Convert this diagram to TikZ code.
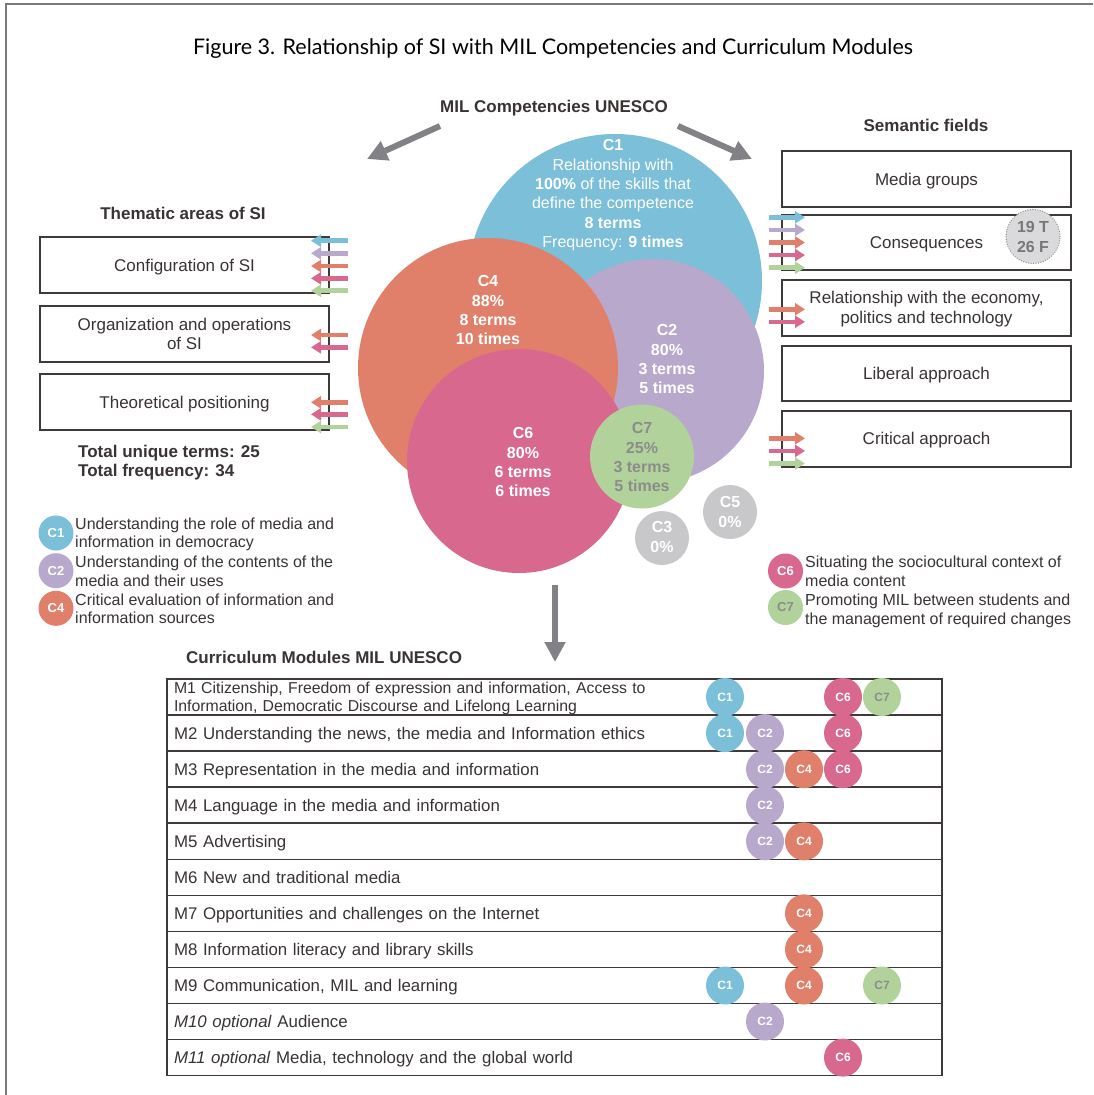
\documentclass[tikz,border=0pt]{standalone}
\usepackage{fontspec}
\setmainfont{Liberation Sans}
\newfontfamily\titlefont{Lato}
\usetikzlibrary{arrows.meta}
\definecolor{cblue}{HTML}{7BBFD9}
\definecolor{cpurple}{HTML}{B8A8CC}
\definecolor{corange}{HTML}{E0806B}
\definecolor{cpink}{HTML}{D8688D}
\definecolor{cgreen}{HTML}{B2D29B}
\definecolor{cgrey}{HTML}{C8C8CA}
\definecolor{txt}{HTML}{3A3333}
\definecolor{lin}{HTML}{3E3A3A}
\definecolor{arrowgrey}{HTML}{828286}
\definecolor{cseventxt}{HTML}{8C8C8C}
\definecolor{framegrey}{HTML}{7A7A7A}
\definecolor{dotfill}{HTML}{DADADC}
\newcommand\myfs[2]{\fontsize{#1}{#2}\selectfont}
\tikzset{
 box/.style={draw=lin, line width=2pt, minimum width=289pt, minimum height=55.5pt, inner sep=2pt, align=center, text=txt, font=\myfs{17}{20}, text height=12.2pt, text depth=0pt},
 head/.style={font=\bfseries\myfs{17}{20}, text=txt, inner sep=0pt, anchor=base},
 bigc/.style={circle, inner sep=0pt, draw=none},
 ctext/.style={text=white, align=center, font=\bfseries\myfs{16}{19.4}, inner sep=0pt, anchor=base},
 carrow/.style={line width=4.5pt, -{Triangle[length=10pt,width=12pt]}},
 bigarrow/.style={arrowgrey, line width=6pt, -{Triangle[length=20pt,width=20pt]}},
 lgc/.style={circle, minimum size=35pt, inner sep=0pt, text=white, font=\bfseries\myfs{13}{13}},
 lgt/.style={anchor=base west, align=left, text=txt, font=\myfs{16}{18.6}, inner sep=0pt},
 mrow/.style={draw=lin, line width=1.5pt, minimum width=775pt, minimum height=36.06pt, inner xsep=7pt, inner ysep=0pt, text width=761pt, align=left, text=txt, font=\myfs{16.85}{18}, text height=12.1pt, text depth=0pt},
 tc/.style={circle, minimum size=38pt, inner sep=0pt, text=white, font=\bfseries\myfs{12}{12}}
}
\begin{document}
\begin{tikzpicture}[x=1pt,y=-1pt]
\useasboundingbox (0,0) rectangle (1093,1095);
\fill[white] (0,0) rectangle (1093,1095);
\draw[framegrey, line width=1.5pt] (6,1095) -- (6,4) -- (1093,4);

% title
\node[text=black, font=\titlefont\myfs{21.5}{24}, inner sep=0pt, anchor=base] (title) at (553,54.8) {Figure 3. Relationship of SI with MIL Competencies and Curriculum Modules};

% headings
\node[head] (milc) at (554,112.1) {MIL Competencies UNESCO};
\node[head] (semf) at (926,131.1) {Semantic fields};
\node[head] (thema) at (183,219.1) {Thematic areas of SI};
\node[head, anchor=base west, align=left, font=\bfseries\myfs{17}{19}] (totals) at (78,476.1) {Total unique terms: 25\\Total frequency: 34};
\node[head, anchor=base west] (curr) at (186,663.1) {Curriculum Modules MIL UNESCO};

% big arrows
\coordinate (la0) at (440,126); \coordinate (la1) at (367,159);
\coordinate (ra0) at (678,126); \coordinate (ra1) at (752,159);
\coordinate (da0) at (555,585); \coordinate (da1) at (555,662);
\draw[bigarrow] (la0) -- (la1);
\draw[bigarrow] (ra0) -- (ra1);
\draw[bigarrow] (da0) -- (da1);

% circles
\node[bigc, fill=cblue, minimum size=294pt] (c1) at (615,281) {};
\node[bigc, fill=cpurple, minimum size=224pt] (c2) at (652,371) {};
\node[bigc, fill=corange, minimum size=260pt] (c4) at (488,368) {};
\node[bigc, fill=cpink, minimum size=224pt] (c6) at (519,461) {};
\node[bigc, fill=cgreen, minimum size=104pt] (c7) at (642,456.5) {};
\node[bigc, fill=cgrey, minimum size=54pt] (c3) at (662,538) {};
\node[bigc, fill=cgrey, minimum size=54pt] (c5) at (730,512) {};

\node[ctext, font=\myfs{16}{19.4}] (t1) at (613,247.7) {\textbf{C1}\\Relationship with\\\textbf{100\%} of the skills that\\define the competence\\\textbf{8 terms}\\Frequency: \textbf{9 times}};
\node[ctext] (t4) at (488,344.9) {C4\\88\%\\8 terms\\10 times};
\node[ctext] (t2) at (667,393.9) {C2\\80\%\\3 terms\\5 times};
\node[ctext] (t6) at (523,496.9) {C6\\80\%\\6 terms\\6 times};
\node[ctext, text=cseventxt] (t7) at (642,491.9) {C7\\25\%\\3 terms\\5 times};
\node[ctext] (t3) at (662,552.1) {C3\\0\%};
\node[ctext] (t5) at (730,527.1) {C5\\0\%};

% right boxes
\node[box] (media) at (926.5,179) {Media groups};
\node[box, text height=32.2pt] (econ) at (926.5,307.8) {Relationship with the economy,\\politics and technology};
\node[box] (cons) at (926.5,242.5) {Consequences};
\node[box] (lib) at (926.5,373.4) {Liberal approach};
\node[box] (crit) at (926.5,438.8) {Critical approach};
\node[circle, minimum size=54pt, fill=dotfill, draw=cseventxt, line width=1.3pt, dash pattern=on 0.1pt off 2.4pt, line cap=round, inner sep=0pt, align=center, text=cseventxt!85!black, font=\bfseries\myfs{16}{19.5}, text height=31pt, text depth=0pt] (tf) at (1033,236.5) {19 T\\26 F};

% left boxes
\node[box, minimum height=56pt] (conf) at (184.5,265.3) {Configuration of SI};
\node[box, minimum height=56pt, font=\myfs{17}{19}, text height=31.2pt] (org) at (184.5,333.7) {Organization and operations\\of SI};
\node[box, minimum height=56pt] (theo) at (184.5,402.2) {Theoretical positioning};

% coloured arrows
\foreach \c/\o in {cblue/-25.2, cpurple/-12.6, corange/0, cpink/12.6, cgreen/25.2}
  \draw[carrow, \c] ([shift={(-12,\o)}]cons.west) -- ++(36,0);
\foreach \c/\o in {corange/1.5, cpink/14}
  \draw[carrow, \c] ([shift={(-12,\o)}]econ.west) -- ++(36,0);
\foreach \c/\o in {corange/-0.5, cpink/12.1, cgreen/24.7}
  \draw[carrow, \c] ([shift={(-12,\o)}]crit.west) -- ++(36,0);
\foreach \c/\o in {cblue/-24.6, cpurple/-12, corange/0.7, cpink/13, cgreen/25.4}
  \draw[carrow, \c] ([shift={(18,\o)}]conf.east) -- ++(-37,0);
\foreach \c/\o in {corange/1.3, cpink/13.6}
  \draw[carrow, \c] ([shift={(18,\o)}]org.east) -- ++(-37,0);
\foreach \c/\o in {corange/0.1, cpink/12.1, cgreen/24.8}
  \draw[carrow, \c] ([shift={(18,\o)}]theo.east) -- ++(-37,0);

% legends
\node[lgc, fill=cblue] (l1) at (56,533) {C1};
\node[lgc, fill=cpurple] (l2) at (56,570.7) {C2};
\node[lgc, fill=corange] (l4) at (56,608.3) {C4};
\node[lgt] (lt1) at (75,547.7) {Understanding the role of media and\\information in democracy};
\node[lgt] (lt2) at (75,586.0) {Understanding of the contents of the\\media and their uses};
\node[lgt] (lt4) at (75,623.6) {Critical evaluation of information and\\information sources};
\node[lgc, fill=cpink] (l6) at (785.5,571) {C6};
\node[lgc, fill=cgreen, text=cseventxt] (l7) at (785.5,607.5) {C7};
\node[lgt] (lt6) at (805,586.0) {Situating the sociocultural context of\\media content};
\node[lgt] (lt7) at (805,624.3) {Promoting MIL between students and\\the management of required changes};

% table
\node[mrow, font=\myfs{15.8}{18}, text height=11.4pt, text depth=18pt] (m1) at (554.5,697.0) {M1 Citizenship, Freedom of expression and information, Access to\\Information, Democratic Discourse and Lifelong Learning};
\node[mrow] (m2) at (554.5,733.1) {M2 Understanding the news, the media and Information ethics};
\node[mrow] (m3) at (554.5,769.2) {M3 Representation in the media and information};
\node[mrow] (m4) at (554.5,805.2) {M4 Language in the media and information};
\node[mrow] (m5) at (554.5,841.3) {M5 Advertising};
\node[mrow] (m6) at (554.5,877.3) {M6 New and traditional media};
\node[mrow] (m7) at (554.5,913.4) {M7 Opportunities and challenges on the Internet};
\node[mrow] (m8) at (554.5,949.4) {M8 Information literacy and library skills};
\node[mrow] (m9) at (554.5,985.5) {M9 Communication, MIL and learning};
\node[mrow] (m10) at (554.5,1021.5) {\textit{M10 optional} Audience};
\node[mrow] (m11) at (554.5,1057.6) {\textit{M11 optional} Media, technology and the global world};

% table markers
\node[tc, fill=cblue] (m1a) at (725,697.0) {C1};
\node[tc, fill=cpink] (m1b) at (843,697.0) {C6};
\node[tc, fill=cgreen, text=cseventxt] (m1c) at (882,697.0) {C7};
\node[tc, fill=cblue] (m2a) at (725,733.1) {C1};
\node[tc, fill=cpurple] (m2b) at (765,733.1) {C2};
\node[tc, fill=cpink] (m2c) at (843,733.1) {C6};
\node[tc, fill=cpurple] (m3a) at (765,769.2) {C2};
\node[tc, fill=corange] (m3b) at (804,769.2) {C4};
\node[tc, fill=cpink] (m3c) at (843,769.2) {C6};
\node[tc, fill=cpurple] (m4a) at (765,805.2) {C2};
\node[tc, fill=cpurple] (m5a) at (765,841.3) {C2};
\node[tc, fill=corange] (m5b) at (804,841.3) {C4};
\node[tc, fill=corange] (m7a) at (804,913.4) {C4};
\node[tc, fill=corange] (m8a) at (804,949.4) {C4};
\node[tc, fill=cblue] (m9a) at (725,985.5) {C1};
\node[tc, fill=corange] (m9b) at (804,985.5) {C4};
\node[tc, fill=cgreen, text=cseventxt] (m9c) at (882,985.5) {C7};
\node[tc, fill=cpurple] (m10a) at (765,1021.5) {C2};
\node[tc, fill=cpink] (m11a) at (843,1057.6) {C6};
\end{tikzpicture}
\end{document}
